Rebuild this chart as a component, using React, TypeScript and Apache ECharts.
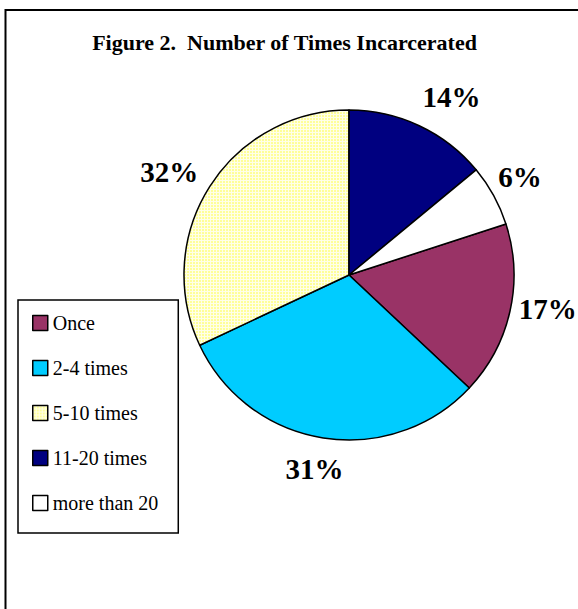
import { useEffect, useRef } from "react";
import * as echarts from "echarts";

// Share of respondents by number of times incarcerated
const CATEGORIES = ["Once", "2-4 times", "5-10 times", "11-20 times", "more than 20"];
const PERCENTS = [17, 31, 32, 14, 6];
const SLICE_COLORS = ["#993366", "#00CCFF", "#FFFFCC", "#000080", "#FFFFFF"];
const TITLE = "Figure 2.  Number of Times Incarcerated";

// small per-label nudges (px) applied after the pie's own outside-label layout
const LABEL_NUDGE: [number, number][] = [
  [-6, -4],
  [27, 21],
  [2, -9],
  [-6, -20],
  [-9, -14],
];

const FONT = "'Liberation Serif', 'Times New Roman', serif";

function gridPattern() {
  const size = 3;
  const c = document.createElement("canvas");
  c.width = size;
  c.height = size;
  const ctx = c.getContext("2d")!;
  ctx.fillStyle = "#FFFF99";
  ctx.fillRect(0, 0, size, size);
  ctx.fillStyle = "#FFFFE8";
  ctx.fillRect(0, 0, size, 1);
  ctx.fillRect(0, 0, 1, size);
  return {
    image: c.toDataURL(),
    repeat: "repeat",
    imageWidth: size,
    imageHeight: size,
  };
}

export default function App() {
  const ref = useRef<HTMLDivElement>(null);

  useEffect(() => {
    if (!ref.current) return;
    const chart = echarts.init(ref.current, null, { renderer: "svg" });
    const pattern = gridPattern();

    const data = CATEGORIES.map((name, i) => ({
      name,
      value: PERCENTS[i],
      itemStyle: { color: i === 2 ? (pattern as any) : SLICE_COLORS[i] },
    }));

    chart.setOption({
      animation: false,
      backgroundColor: "#FFFFFF",
      graphic: [
        {
          type: "rect",
          shape: { x: 5.5, y: 10, width: 700, height: 800 },
          style: { fill: "none", stroke: "#000", lineWidth: 2 },
          silent: true,
        },
        {
          type: "text",
          x: 284.5,
          y: 42,
          style: {
            text: TITLE,
            fontFamily: FONT,
            fontSize: 22,
            fontWeight: "bold",
            fill: "#000",
            align: "center",
            verticalAlign: "middle",
          },
          silent: true,
        },
      ],
      legend: {
        orient: "vertical",
        left: 18,
        top: 300,
        padding: [13, 20, 20, 14],
        borderColor: "#000",
        borderWidth: 1.5,
        backgroundColor: "#FFFFFF",
        itemWidth: 15,
        itemHeight: 15,
        itemGap: 25,
        icon: "rect",
        selectedMode: false,
        itemStyle: { borderColor: "#000", borderWidth: 1.5 },
        textStyle: {
          fontFamily: FONT,
          fontSize: 20,
          lineHeight: 20,
          color: "#000",
        },
        data: CATEGORIES,
      },
      series: [
        {
          type: "pie",
          center: [349, 275],
          radius: 165,
          startAngle: 18,
          clockwise: true,
          avoidLabelOverlap: false,
          silent: true,
          emphasis: { disabled: true },
          itemStyle: { borderColor: "#000", borderWidth: 1.5 },
          label: {
            show: true,
            position: "outside",
            formatter: "{c}%",
            fontFamily: FONT,
            fontSize: 29,
            fontWeight: "bold",
            color: "#000",
            distanceToLabelLine: 5,
          },
          labelLine: { show: false, length: 10, length2: 0 },
          labelLayout: (params: any) => {
            const [dx, dy] = LABEL_NUDGE[params.dataIndex] || [0, 0];
            return { dx, dy };
          },
          data,
        },
      ],
    });

    return () => chart.dispose();
  }, []);

  return (
    <div
      ref={ref}
      style={{ position: "fixed", left: 0, top: 0, width: 578, height: 609 }}
    />
  );
}
